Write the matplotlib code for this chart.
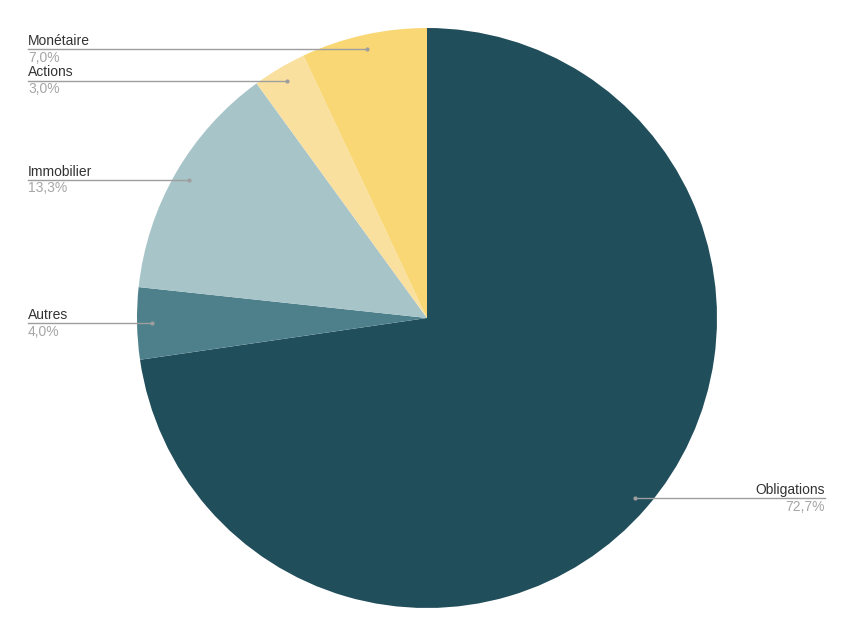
import numpy as np
import matplotlib.pyplot as plt

labels = ['Obligations', 'Autres', 'Immobilier', 'Actions', 'Monétaire']
values = [72.7, 4.0, 13.3, 3.0, 7.0]
value_text = ['72,7%', '4,0%', '13,3%', '3,0%', '7,0%']
colors = ['#214e5b', '#4e808b', '#a7c4c8', '#fae09f', '#f8d774']

plt.rcParams['font.family'] = ['Liberation Sans', 'DejaVu Sans']

fig = plt.figure(figsize=(8.5, 6.35), dpi=100)
# pie centre at (427, 318) px, radius 290 px
cx, cy, R = 427, 318, 290
ax = fig.add_axes([(cx - R) / 850, (635 - cy - R) / 635, 2 * R / 850, 2 * R / 635])
wedges, _ = ax.pie(values, colors=colors, startangle=90, counterclock=False,
                   radius=1, wedgeprops=dict(linewidth=0))
ax.set_xlim(-1, 1)
ax.set_ylim(-1, 1)
ax.set_aspect('equal')
ax.axis('off')

left_x = (28 - cx) / R
right_x = (825 - cx) / R

for w, lab, vt in zip(wedges, labels, value_text):
    mid = np.deg2rad((w.theta1 + w.theta2) / 2)
    px, py = 0.95 * np.cos(mid), 0.95 * np.sin(mid)
    if px >= 0:
        end_x, ha = right_x, 'right'
    else:
        end_x, ha = left_x, 'left'
    ax.plot([px, end_x], [py, py], color='#9e9e9e', lw=1, clip_on=False, zorder=3)
    ax.plot(px, py, 'o', color='#9e9e9e', ms=2, clip_on=False, zorder=4)
    ax.annotate(lab, (end_x, py), xytext=(0, 1), textcoords='offset points',
                ha=ha, va='bottom', fontsize=10, color='#333333', annotation_clip=False)
    ax.annotate(vt, (end_x, py), xytext=(0, -1), textcoords='offset points',
                ha=ha, va='top', fontsize=10, color='#a6a6a6', annotation_clip=False)

fig.savefig('out.png', dpi=100)
